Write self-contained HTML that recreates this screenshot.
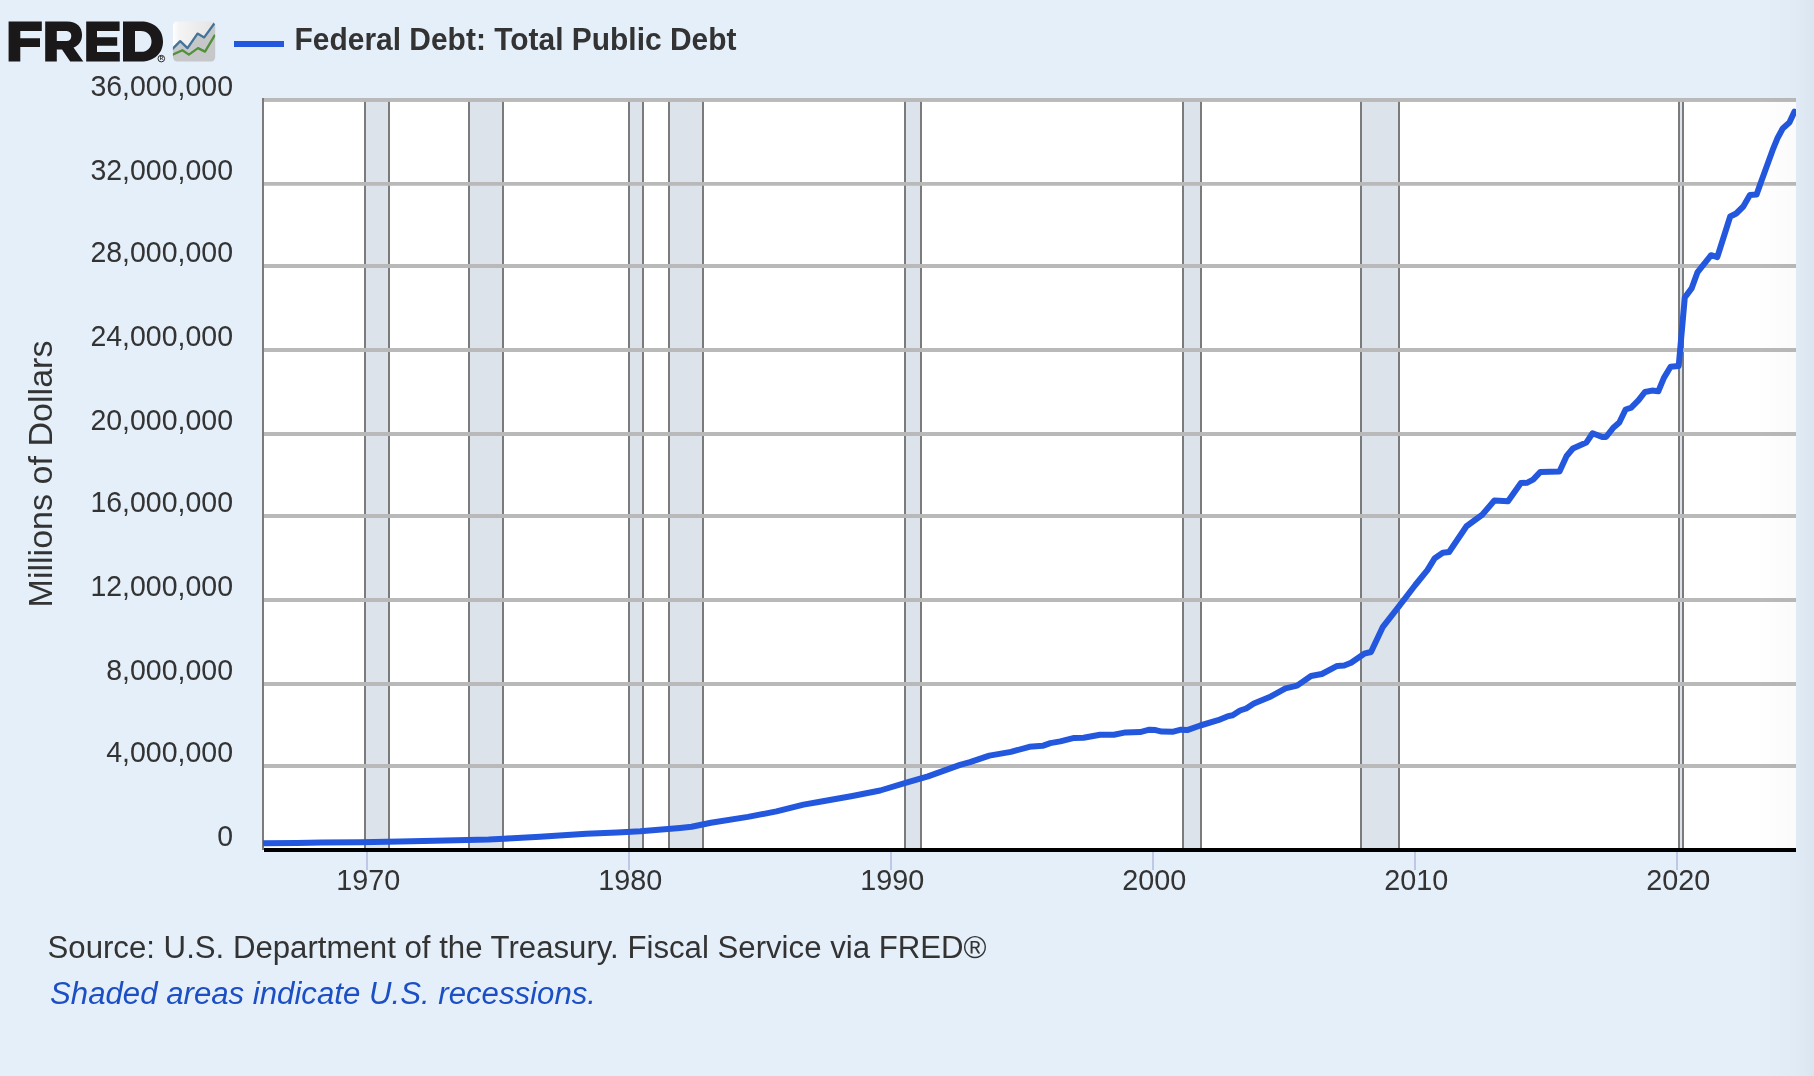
<!DOCTYPE html>
<html><head><meta charset="utf-8">
<style>
html,body{margin:0;padding:0;width:1814px;height:1076px;overflow:hidden;background:#e5eff9;}
svg{display:block;will-change:transform;font-family:"Liberation Sans",sans-serif;}
</style></head><body>
<svg width="1814" height="1076" viewBox="0 0 1814 1076">
<defs>
<linearGradient id="bgr" x1="0" y1="0" x2="1" y2="0">
<stop offset="0" stop-color="#0a1e46" stop-opacity="0"/><stop offset="0.7" stop-color="#0a1e46" stop-opacity="0.02"/><stop offset="1" stop-color="#0a1e46" stop-opacity="0.045"/>
</linearGradient>
<linearGradient id="icg" x1="0" y1="0" x2="1" y2="0">
<stop offset="0" stop-color="#ffffff"/><stop offset="0.15" stop-color="#f4f4f4"/><stop offset="1" stop-color="#e4e4e4"/>
</linearGradient>
<clipPath id="pc"><rect x="263" y="98" width="1533" height="754"/></clipPath>
<clipPath id="icc"><rect x="172.9" y="21.3" width="42.3" height="40.3" rx="4.5"/></clipPath>
</defs>
<rect x="0" y="0" width="1814" height="1076" fill="#e5eff9"/>
<!-- logo -->
<g fill="#1a1819">
<path d="M8.6 21.6 H41.8 V31.1 H20.3 V38.3 H40 V46.9 H20.3 V61.4 H8.6 Z"/>
<path d="M45.2 21.4 H67 C77 21.4 82 27 82 35 C82 41 79 45.5 73.5 47.5 L83.3 61.4 H70.2 L62 49.5 H56.8 V61.4 H45.2 Z M56.8 30.9 V41 H66.5 C69.6 41 71.3 39 71.3 36 C71.3 33 69.6 30.9 66.5 30.9 Z" fill-rule="evenodd"/>
<path d="M86.2 21.4 H119.6 V30.9 H97 V37.2 H117.2 V45.8 H97 V51.9 H119.8 V61.4 H86.2 Z"/>
<path d="M123 21.4 H141 C154 21.4 163 29.5 163 41.4 C163 53.3 154 61.4 141 61.4 H123 Z M135 30.9 V51.8 H140.8 C147.3 51.8 151.5 47.5 151.5 41.4 C151.5 35.3 147.3 30.9 140.8 30.9 Z" fill-rule="evenodd"/>
</g>
<circle cx="161.3" cy="58.6" r="3.3" fill="none" stroke="#1a1819" stroke-width="0.9"/>
<text x="161.3" y="60.3" font-size="4.5" text-anchor="middle" fill="#1a1819" font-weight="bold">R</text>
<g clip-path="url(#icc)">
<rect x="172.9" y="21.3" width="42.3" height="40.3" fill="url(#icg)"/>
<path d="M173 48.5 L180.2 41.1 L187.5 48.1 L197.5 33.6 L204.2 37.4 L214 23.9 L216 23.9 V62 H173 Z" fill="#c6c7c9"/>
<path d="M172 49.5 L180.2 41.1 L187.5 48.1 L197.5 33.6 L204.2 37.4 L214.5 23.2" fill="none" stroke="#44739a" stroke-width="2.3" stroke-linejoin="round"/>
<path d="M172 55 L182.4 50.2 L188.9 54.6 L198 48.1 L205 51.6 L215 34.8" fill="none" stroke="#52903a" stroke-width="2.3" stroke-linejoin="round"/>
</g>
<!-- legend -->
<rect x="234" y="41" width="50" height="6" fill="#2257de"/>
<text x="294.5" y="49.8" font-size="30.5" font-weight="bold" fill="#333333" textLength="442" lengthAdjust="spacingAndGlyphs">Federal Debt: Total Public Debt</text>
<!-- plot -->
<rect x="263" y="98" width="1533" height="754" fill="#ffffff"/>
<rect x="365" y="98" width="24" height="752" fill="#dde3eb"/><line x1="365" y1="98" x2="365" y2="850" stroke="#7b7b7b" stroke-width="2"/><line x1="389" y1="98" x2="389" y2="850" stroke="#7b7b7b" stroke-width="2"/><rect x="469" y="98" width="34" height="752" fill="#dde3eb"/><line x1="469" y1="98" x2="469" y2="850" stroke="#7b7b7b" stroke-width="2"/><line x1="503" y1="98" x2="503" y2="850" stroke="#7b7b7b" stroke-width="2"/><rect x="629" y="98" width="14" height="752" fill="#dde3eb"/><line x1="629" y1="98" x2="629" y2="850" stroke="#7b7b7b" stroke-width="2"/><line x1="643" y1="98" x2="643" y2="850" stroke="#7b7b7b" stroke-width="2"/><rect x="669" y="98" width="34" height="752" fill="#dde3eb"/><line x1="669" y1="98" x2="669" y2="850" stroke="#7b7b7b" stroke-width="2"/><line x1="703" y1="98" x2="703" y2="850" stroke="#7b7b7b" stroke-width="2"/><rect x="905" y="98" width="16" height="752" fill="#dde3eb"/><line x1="905" y1="98" x2="905" y2="850" stroke="#7b7b7b" stroke-width="2"/><line x1="921" y1="98" x2="921" y2="850" stroke="#7b7b7b" stroke-width="2"/><rect x="1183" y="98" width="18" height="752" fill="#dde3eb"/><line x1="1183" y1="98" x2="1183" y2="850" stroke="#7b7b7b" stroke-width="2"/><line x1="1201" y1="98" x2="1201" y2="850" stroke="#7b7b7b" stroke-width="2"/><rect x="1361" y="98" width="38" height="752" fill="#dde3eb"/><line x1="1361" y1="98" x2="1361" y2="850" stroke="#7b7b7b" stroke-width="2"/><line x1="1399" y1="98" x2="1399" y2="850" stroke="#7b7b7b" stroke-width="2"/><rect x="1679" y="98" width="4" height="752" fill="#dde3eb"/><line x1="1679" y1="98" x2="1679" y2="850" stroke="#7b7b7b" stroke-width="2"/><line x1="1683" y1="98" x2="1683" y2="850" stroke="#7b7b7b" stroke-width="2"/>
<line x1="263" y1="766.0" x2="1796" y2="766.0" stroke="#b9b9b9" stroke-width="3.8"/><line x1="263" y1="684.0" x2="1796" y2="684.0" stroke="#b9b9b9" stroke-width="3.8"/><line x1="263" y1="600.0" x2="1796" y2="600.0" stroke="#b9b9b9" stroke-width="3.8"/><line x1="263" y1="516.0" x2="1796" y2="516.0" stroke="#b9b9b9" stroke-width="3.8"/><line x1="263" y1="434.0" x2="1796" y2="434.0" stroke="#b9b9b9" stroke-width="3.8"/><line x1="263" y1="350.0" x2="1796" y2="350.0" stroke="#b9b9b9" stroke-width="3.8"/><line x1="263" y1="266.0" x2="1796" y2="266.0" stroke="#b9b9b9" stroke-width="3.8"/><line x1="263" y1="183.9" x2="1796" y2="183.9" stroke="#b9b9b9" stroke-width="3.8"/><line x1="263" y1="99.9" x2="1796" y2="99.9" stroke="#b9b9b9" stroke-width="3.8"/>
<line x1="263" y1="99.9" x2="1796" y2="99.9" stroke="#b9b9b9" stroke-width="3.8"/>
<line x1="263" y1="98" x2="263" y2="850" stroke="#7b7b7b" stroke-width="2"/>
<line x1="367.0" y1="852" x2="367.0" y2="870" stroke="#bec8e6" stroke-width="2"/><line x1="629.0" y1="852" x2="629.0" y2="870" stroke="#bec8e6" stroke-width="2"/><line x1="891.0" y1="852" x2="891.0" y2="870" stroke="#bec8e6" stroke-width="2"/><line x1="1153.0" y1="852" x2="1153.0" y2="870" stroke="#bec8e6" stroke-width="2"/><line x1="1415.0" y1="852" x2="1415.0" y2="870" stroke="#bec8e6" stroke-width="2"/><line x1="1677.0" y1="852" x2="1677.0" y2="870" stroke="#bec8e6" stroke-width="2"/>
<g clip-path="url(#pc)">
<path d="M262.5 843.2 L297.0 843.0 L321.7 842.6 L360.3 842.2 L400.0 841.4 L434.7 840.7 L488.7 839.5 L504.2 838.7 L540.0 836.7 L586.3 833.8 L617.2 832.5 L640.3 831.3 L680.0 827.9 L691.6 826.7 L710.9 822.7 L747.9 816.9 L776.5 811.4 L803.5 804.6 L820.0 801.7 L852.4 796.0 L880.2 790.5 L907.2 782.4 L928.0 776.3 L960.0 764.9 L970.0 762.2 L989.3 755.6 L1010.9 751.9 L1029.4 746.8 L1042.6 745.8 L1050.3 743.1 L1060.3 741.4 L1074.2 737.9 L1083.5 737.7 L1100.0 734.7 L1113.9 734.7 L1125.5 732.4 L1140.1 732.1 L1149.4 729.7 L1155.6 730.1 L1161.7 731.6 L1173.3 731.7 L1181.0 729.7 L1187.2 730.1 L1200.3 725.5 L1218.1 720.2 L1227.3 716.4 L1232.7 715.2 L1240.0 710.5 L1246.2 708.5 L1253.9 703.5 L1270.9 696.4 L1285.5 688.3 L1297.1 685.6 L1311.0 676.0 L1321.8 674.0 L1337.2 665.9 L1344.2 665.5 L1351.1 662.8 L1364.2 653.7 L1371.0 652.0 L1382.9 626.8 L1399.3 605.9 L1415.3 585.0 L1427.4 570.1 L1434.8 558.2 L1442.8 552.7 L1449.1 552.0 L1466.5 526.2 L1482.2 514.8 L1494.4 500.5 L1508.0 501.2 L1520.9 483.1 L1526.8 482.8 L1533.1 479.6 L1540.4 471.9 L1559.5 471.6 L1566.6 456.0 L1572.9 448.5 L1586.3 442.6 L1592.6 433.3 L1602.2 437.0 L1606.0 437.0 L1613.0 428.1 L1619.3 422.5 L1625.6 409.5 L1631.2 407.7 L1638.6 400.2 L1644.9 392.0 L1652.0 390.6 L1658.3 391.3 L1663.9 377.9 L1670.6 366.8 L1678.7 366.0 L1684.8 297.5 L1691.6 288.4 L1697.4 272.4 L1711.1 255.2 L1717.3 257.1 L1730.2 216.5 L1736.2 213.5 L1743.3 206.5 L1749.9 195.0 L1756.6 194.6 L1760.4 183.8 L1772.6 150.2 L1777.7 137.7 L1782.7 128.5 L1789.4 122.6 L1794.4 111.7" fill="none" stroke="#2257de" stroke-width="6" stroke-linejoin="round" stroke-linecap="round"/>
</g>
<line x1="264" y1="850" x2="1796" y2="850" stroke="#000" stroke-width="4"/>
<g font-size="28" fill="#333333">
<text x="233" y="845.8" text-anchor="end" font-size="30" textLength="15.8" lengthAdjust="spacingAndGlyphs">0</text><text x="233" y="761.8" text-anchor="end" font-size="30" textLength="126.8" lengthAdjust="spacingAndGlyphs">4,000,000</text><text x="233" y="679.8" text-anchor="end" font-size="30" textLength="126.8" lengthAdjust="spacingAndGlyphs">8,000,000</text><text x="233" y="595.8" text-anchor="end" font-size="30" textLength="142.6" lengthAdjust="spacingAndGlyphs">12,000,000</text><text x="233" y="511.8" text-anchor="end" font-size="30" textLength="142.6" lengthAdjust="spacingAndGlyphs">16,000,000</text><text x="233" y="429.8" text-anchor="end" font-size="30" textLength="142.6" lengthAdjust="spacingAndGlyphs">20,000,000</text><text x="233" y="345.8" text-anchor="end" font-size="30" textLength="142.6" lengthAdjust="spacingAndGlyphs">24,000,000</text><text x="233" y="261.8" text-anchor="end" font-size="30" textLength="142.6" lengthAdjust="spacingAndGlyphs">28,000,000</text><text x="233" y="179.7" text-anchor="end" font-size="30" textLength="142.6" lengthAdjust="spacingAndGlyphs">32,000,000</text><text x="233" y="95.7" text-anchor="end" font-size="30" textLength="142.6" lengthAdjust="spacingAndGlyphs">36,000,000</text>
<text x="368.2" y="890.2" text-anchor="middle" font-size="30" textLength="64" lengthAdjust="spacingAndGlyphs">1970</text><text x="630.2" y="890.2" text-anchor="middle" font-size="30" textLength="64" lengthAdjust="spacingAndGlyphs">1980</text><text x="892.2" y="890.2" text-anchor="middle" font-size="30" textLength="64" lengthAdjust="spacingAndGlyphs">1990</text><text x="1154.2" y="890.2" text-anchor="middle" font-size="30" textLength="64" lengthAdjust="spacingAndGlyphs">2000</text><text x="1416.2" y="890.2" text-anchor="middle" font-size="30" textLength="64" lengthAdjust="spacingAndGlyphs">2010</text><text x="1678.2" y="890.2" text-anchor="middle" font-size="30" textLength="64" lengthAdjust="spacingAndGlyphs">2020</text>
</g>
<rect x="1755" y="0" width="59" height="1076" fill="url(#bgr)"/>
<text transform="translate(51.7 607.5) rotate(-90)" font-size="34" fill="#333333" textLength="267" lengthAdjust="spacingAndGlyphs">Millions of Dollars</text>
<text x="47.5" y="957.9" font-size="31" fill="#333333" textLength="939" lengthAdjust="spacingAndGlyphs">Source: U.S. Department of the Treasury. Fiscal Service via FRED®</text>
<text x="50" y="1003.5" font-size="31" font-style="italic" fill="#1c4fc4" textLength="546" lengthAdjust="spacingAndGlyphs">Shaded areas indicate U.S. recessions.</text>
</svg>
</body></html>
